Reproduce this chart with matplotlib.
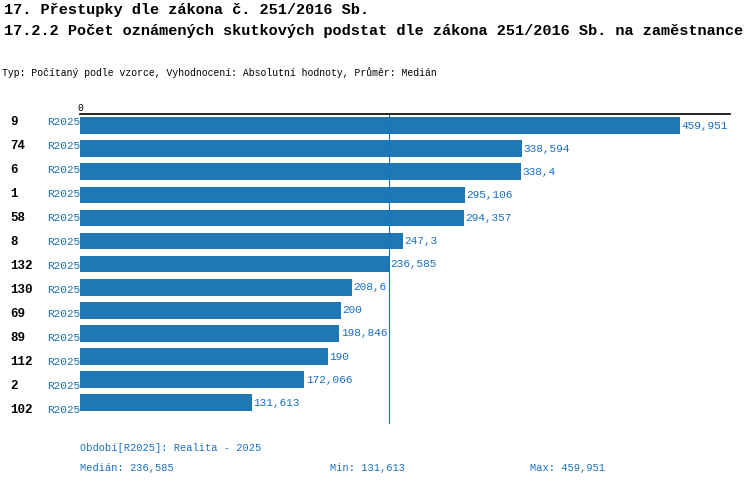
import matplotlib.pyplot as plt

plt.rcParams['font.family'] = ['Liberation Mono', 'DejaVu Sans Mono']

ids = ['9', '74', '6', '1', '58', '8', '132', '130', '69', '89', '112', '2', '102']
values = [459.951, 338.594, 338.4, 295.106, 294.357, 247.3, 236.585, 208.6, 200, 198.846, 190, 172.066, 131.613]
labels = ['459,951', '338,594', '338,4', '295,106', '294,357', '247,3', '236,585', '208,6', '200', '198,846', '190', '172,066', '131,613']
median = 236.585

W, H = 750, 486
fig = plt.figure(figsize=(7.5, 4.86), dpi=100)
blue = '#1f77b4'
tblue = '#1a6fc0'

# axes in pixel space: x 80..730, y 114..424
ax = fig.add_axes([80 / W, 1 - 424 / H, 650 / W, 310 / H])
scale = 600 / 459.951
ax.set_xlim(0, 650 / scale)
n = len(values)
ax.set_ylim(n - 0.5 + 0.42, -0.5)
ypos = list(range(n))
ax.barh(ypos, values, height=0.72, color=blue)
for y, v, lab in zip(ypos, values, labels):
    ax.text(v + 1, y, lab, color=tblue, fontsize=8, va='center', ha='left')
ax.axvline(median, color=tblue, lw=0.8)
for s in ['left', 'right', 'bottom']:
    ax.spines[s].set_visible(False)
ax.spines['top'].set_linewidth(1.2)
ax.xaxis.tick_top()
ax.set_xticks([0])
ax.set_xticklabels(['0'], fontsize=7)
ax.tick_params(axis='x', length=0, pad=1)
ax.set_yticks([])

for y, i in zip(ypos, ids):
    py = 122 + 24 * y
    fig.text(10 / W, 1 - py / H, i, fontsize=9, fontweight='bold', va='center')
    fig.text(47 / W, 1 - py / H, 'R2025', fontsize=8, color=tblue, va='center')

fig.text(4 / W, 1 - 10 / H, '17. Přestupky dle zákona č. 251/2016 Sb.', fontsize=11, fontweight='bold', va='center')
fig.text(4 / W, 1 - 31 / H, '17.2.2 Počet oznámených skutkových podstat dle zákona 251/2016 Sb. na zaměstnance',
         fontsize=11, fontweight='bold', va='center')
fig.text(2 / W, 1 - 73 / H, 'Typ: Počítaný podle vzorce, Vyhodnocení: Absolutní hodnoty, Průměr: Medián', fontsize=7, va='center')
fig.text(80 / W, 1 - 448 / H, 'Období[R2025]: Realita - 2025', fontsize=7.5, color=tblue, va='center')
fig.text(80 / W, 1 - 468 / H, 'Medián: 236,585', fontsize=7.5, color=tblue, va='center')
fig.text(330 / W, 1 - 468 / H, 'Min: 131,613', fontsize=7.5, color=tblue, va='center')
fig.text(530 / W, 1 - 468 / H, 'Max: 459,951', fontsize=7.5, color=tblue, va='center')

fig.savefig('out.png', dpi=100)
